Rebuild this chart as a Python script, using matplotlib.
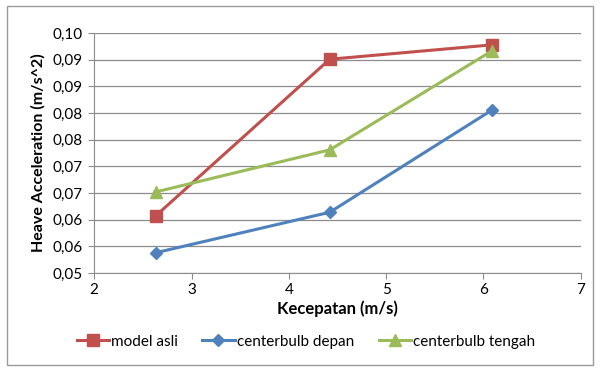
import matplotlib.pyplot as plt
from matplotlib.patches import Rectangle

# data
kecepatan = [2.63, 4.42, 6.09]
model_asli = [0.0607, 0.0901, 0.0928]
centerbulb_depan = [0.0538, 0.0614, 0.0806]
centerbulb_tengah = [0.0652, 0.0731, 0.0917]

y_ticks = [0.050, 0.055, 0.060, 0.065, 0.070, 0.075, 0.080, 0.085, 0.090, 0.095]
y_labels = ['0,05', '0,06', '0,06', '0,07', '0,07', '0,08', '0,08', '0,09', '0,09', '0,10']
x_ticks = [2, 3, 4, 5, 6, 7]

plt.rcParams['font.family'] = ['Lato', 'DejaVu Sans']

fig = plt.figure(figsize=(6, 3.72), dpi=100, facecolor='white')
fig.patches.append(Rectangle((0.012, 0.018), 0.976, 0.965, transform=fig.transFigure,
                             fill=False, edgecolor='#9a9a9a', linewidth=1))
ax = fig.add_axes([0.157, 0.266, 0.811, 0.645])

ax.plot(kecepatan, model_asli, color='#c0504d', marker='s', markersize=8.5,
        linewidth=2.2, label='model asli', zorder=3)
ax.plot(kecepatan, centerbulb_depan, color='#4f81bd', marker='D', markersize=6.5,
        linewidth=2.2, label='centerbulb depan', zorder=3)
ax.plot(kecepatan, centerbulb_tengah, color='#9bbb59', marker='^', markersize=9,
        linewidth=2.2, label='centerbulb tengah', zorder=3)

ax.set_xlim(2, 7)
ax.set_ylim(0.05, 0.095)
ax.set_xticks(x_ticks)
ax.set_xticklabels([str(v) for v in x_ticks])
ax.set_yticks(y_ticks)
ax.set_yticklabels(y_labels)
ax.grid(axis='y', color='#8c8c8c', linewidth=0.9)
ax.set_axisbelow(True)

for side in ['top', 'right']:
    ax.spines[side].set_visible(False)
for side in ['left', 'bottom']:
    ax.spines[side].set_color('#8c8c8c')
ax.tick_params(axis='both', colors='#8c8c8c', labelcolor='black', labelsize=11,
               direction='out', length=4)
ax.tick_params(axis='y', pad=4)

ax.set_xlabel('Kecepatan (m/s)', fontsize=12, fontweight='bold', labelpad=2)
ax.set_ylabel('Heave Acceleration (m/s^2)', fontsize=11.5, fontweight='bold', labelpad=5)

ax.legend(loc='upper center', bbox_to_anchor=(0.435, -0.2), ncol=3, frameon=False,
          fontsize=11, handlelength=2.1, columnspacing=1.6, handletextpad=0.15)

fig.savefig('out.png', dpi=100)
